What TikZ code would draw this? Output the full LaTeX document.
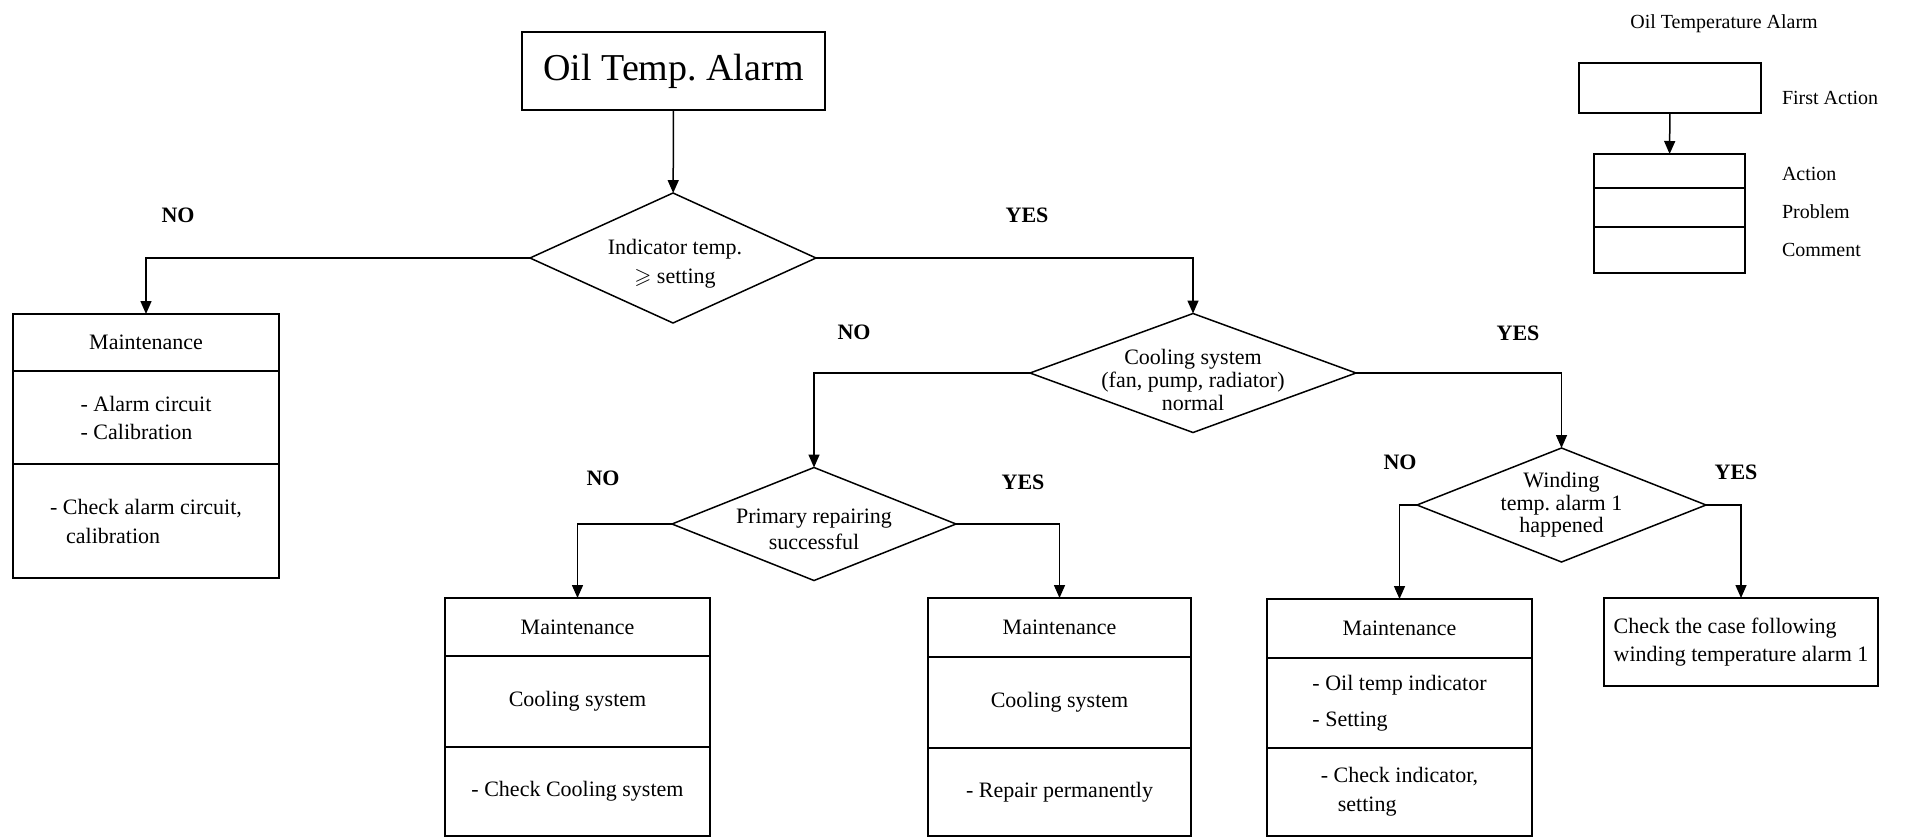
\documentclass[tikz,border=0pt]{standalone}
\usepackage{fontspec}
\setmainfont{Liberation Serif}
\usepackage{amssymb}
\usetikzlibrary{shapes.geometric,arrows.meta}
\frenchspacing

\begin{document}
\begin{tikzpicture}[x=1pt,y=-1pt,
  line width=1.5pt,
  every node/.style={inner sep=0pt, outer sep=0pt},
  body/.style={font=\fontsize{22}{#1}\selectfont},
  body/.default=26,
  sect/.style={draw, rectangle, line width=1.8pt, align=center},
  dec/.style={draw, diamond, inner sep=0pt},
  dtext/.style={align=center, font=\fontsize{22}{#1}\selectfont},
  answer/.style={font=\fontsize{22}{26}\selectfont\bfseries},
  legendtext/.style={font=\fontsize{20}{24}\selectfont},
  flow/.style={-{Triangle[length=13pt,width=11pt]}}
]
% page area
\fill[white] (0,0) rectangle (1910,838);
\useasboundingbox (0,0) rectangle (1910,838);

% start
\node[sect, minimum width=303pt, minimum height=78pt,
      font=\fontsize{38}{44}\selectfont] (start) at (673.5,71) {Oil Temp. Alarm};

% decisions
\node[dec, minimum width=286pt, minimum height=130pt] (d1) at (673,258) {};
\node[dtext=29] at (675,264) {Indicator temp.\\ $\geqslant$ setting};

\node[dec, minimum width=326pt, minimum height=119pt] (d2) at (1193,373) {};
\node[dtext=23] at (1193,380) {Cooling system\\(fan, pump, radiator)\\normal};

\node[dec, minimum width=284pt, minimum height=113pt] (d3) at (814,524) {};
\node[dtext=26] at (814,529) {Primary repairing\\successful};

\node[dec, minimum width=289pt, minimum height=114pt] (d4) at (1561.5,505) {};
\node[dtext=22.5] at (1561.5,505) {Winding\\temp. alarm 1\\happened};

% maintenance: alarm circuit
\node[sect, body, minimum width=266pt, minimum height=57pt] (m1a) at (146,342.5) {Maintenance};
\node[sect, body=28, align=left, minimum width=266pt, minimum height=93pt] (m1b) at (146,417.5) {- Alarm circuit\\- Calibration};
\node[sect, body=29, align=left, minimum width=266pt, minimum height=114pt] (m1c) at (146,521) {- Check alarm circuit,\\\hspace*{16pt}calibration};

% maintenance: cooling system check
\node[sect, body, minimum width=265pt, minimum height=58pt] (m2a) at (577.5,627) {Maintenance};
\node[sect, body, minimum width=265pt, minimum height=91pt] (m2b) at (577.5,701.5) {Cooling system};
\node[sect, body, minimum width=265pt, minimum height=89pt] (m2c) at (577.5,791.5) {- Check Cooling system};

% maintenance: permanent repair
\node[sect, body, minimum width=263pt, minimum height=59pt] (m3a) at (1059.5,627.5) {Maintenance};
\node[sect, body, minimum width=263pt, minimum height=91pt] (m3b) at (1059.5,702.5) {Cooling system};
\node[sect, body, minimum width=263pt, minimum height=88pt] (m3c) at (1059.5,792) {- Repair permanently};

% maintenance: indicator
\node[sect, body, minimum width=265pt, minimum height=59pt] (m4a) at (1399.5,628.5) {Maintenance};
\node[sect, body=36, align=left, minimum width=265pt, minimum height=90pt] (m4b) at (1399.5,703) {- Oil temp indicator\\- Setting};
\node[sect, body=29, align=left, minimum width=265pt, minimum height=88pt] (m4c) at (1399.5,792) {- Check indicator,\\\hspace*{17pt}setting};

% winding alarm case
\node[sect, body=28, align=left, minimum width=274pt, minimum height=88pt] (w1) at (1741,642) {Check the case following\\winding temperature alarm 1};

% connectors
\draw[flow] (start) -- (d1);
\draw[flow] (d1.west) -| (m1a.north);
\draw[flow] (d1.east) -| (d2.north);
\draw[flow] (d2.west) -| (d3.north);
\draw[flow] (d2.east) -| (d4.north);
\draw[flow] (d3.west) -| (m2a.north);
\draw[flow] (d3.east) -| (m3a.north);
\draw[flow] (d4.west) -| (m4a.north);
\draw[flow] (d4.east) -| (w1.north);

% branch labels
\node[answer] (no1) at (178,215) {NO};
\node[answer] (yes1) at (1027,215) {YES};
\node[answer] (no2) at (854,332) {NO};
\node[answer] (yes2) at (1518,333) {YES};
\node[answer] (no3) at (603,478) {NO};
\node[answer] (yes3) at (1023,482) {YES};
\node[answer] (no4) at (1400,462) {NO};
\node[answer] (yes4) at (1736,472) {YES};

% legend
\node[legendtext] (lt) at (1724,24) {Oil Temperature Alarm};
\node[sect, minimum width=182pt, minimum height=50pt] (l1) at (1670,88) {};
\node[sect, minimum width=151pt, minimum height=34pt] (l2a) at (1669.5,171) {};
\node[sect, minimum width=151pt, minimum height=39pt] (l2b) at (1669.5,207.5) {};
\node[sect, minimum width=151pt, minimum height=46pt] (l2c) at (1669.5,250) {};
\draw[flow] (l1) -- (l2a);
\node[legendtext, anchor=west] (lfa) at (1782,98) {First Action};
\node[legendtext, anchor=west] (lac) at (1782,174) {Action};
\node[legendtext, anchor=west] (lpr) at (1782,212) {Problem};
\node[legendtext, anchor=west] (lco) at (1782,250) {Comment};
\end{tikzpicture}
\end{document}
